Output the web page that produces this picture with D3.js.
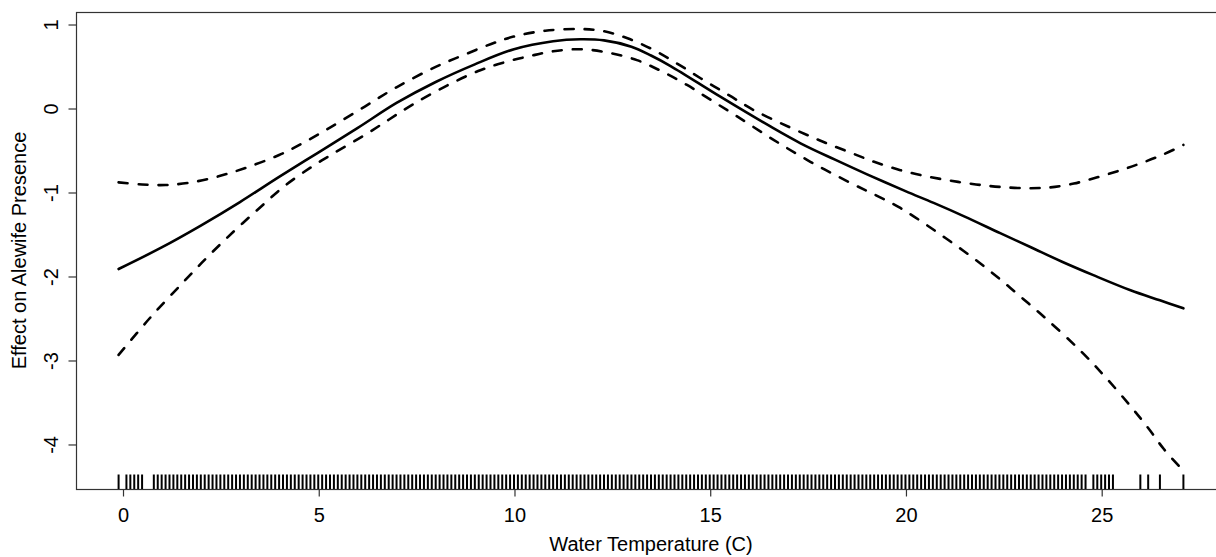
<!DOCTYPE html>
<html>
<head>
<meta charset="utf-8">
<script src="https://cdn.jsdelivr.net/npm/d3@7"></script>
<style>
  html, body { margin: 0; padding: 0; background: #fff; }
  svg { display: block; }
  text { font-family: "Liberation Sans", Arial, sans-serif; fill: #000; }
</style>
</head>
<body>
<div id="chart"></div>
<script>
// ---- data ----
const xTicks = [0, 5, 10, 15, 20, 25];
const yTicks = [-4, -3, -2, -1, 0, 1];
const xLabel = "Water Temperature (C)";
const yLabel = "Effect on Alewife Presence";

// smooth fit [temperature, effect]
const fitLine = [
  [-0.1, -1.917], [1.0, -1.66], [2.0, -1.40], [3.0, -1.12], [4.0, -0.82], [5.0, -0.53],
  [6.0, -0.24], [7.0, 0.06], [8.0, 0.31], [9.0, 0.52], [10.0, 0.70], [11.0, 0.795],
  [11.7, 0.818], [12.3, 0.805], [13.0, 0.73], [13.5, 0.625], [14.0, 0.50],
  [15.27, 0.135], [16.55, -0.22], [17.32, -0.42], [18.2, -0.615], [19.02, -0.79],
  [20.0, -0.99], [20.72, -1.13], [21.5, -1.29], [22.42, -1.49], [23.19, -1.655],
  [24.0, -1.83], [24.8, -1.99], [25.75, -2.17], [26.5, -2.29], [27.1, -2.385]
];
// upper confidence band
const upperLine = [
  [-0.1, -0.885], [0.5, -0.91], [1.1, -0.917], [1.7, -0.89], [2.4, -0.82], [3.1, -0.72],
  [4.0, -0.56], [4.6, -0.42], [5.31, -0.23], [6.2, 0.02], [7.01, 0.25], [8.0, 0.49],
  [8.71, 0.63], [9.4, 0.76], [9.99, 0.85], [10.8, 0.92], [11.69, 0.94], [12.29, 0.915],
  [12.9, 0.83], [13.57, 0.69], [14.2, 0.52], [14.84, 0.333], [15.5, 0.15], [16.12, -0.024],
  [17.0, -0.22], [17.83, -0.39], [18.59, -0.53], [19.2, -0.64], [19.87, -0.74],
  [20.5, -0.81], [21.15, -0.865], [21.8, -0.91], [22.42, -0.94], [23.1, -0.955],
  [23.7, -0.945], [24.3, -0.9], [24.9, -0.825], [25.5, -0.74], [26.0, -0.66],
  [26.6, -0.55], [27.1, -0.44]
];
// lower confidence band
const lowerLine = [
  [-0.1, -2.94], [0.7, -2.50], [1.56, -2.07], [2.2, -1.76], [2.84, -1.47], [3.5, -1.19],
  [4.11, -0.94], [4.8, -0.71], [5.39, -0.54], [6.16, -0.33], [6.8, -0.14], [7.44, 0.05],
  [8.3, 0.27], [9.14, 0.45], [9.8, 0.55], [10.42, 0.62], [11.0, 0.675], [11.7, 0.70],
  [12.4, 0.66], [13.14, 0.57], [13.8, 0.43], [14.42, 0.274], [15.05, 0.09], [15.70, -0.10],
  [16.6, -0.37], [17.57, -0.64], [18.59, -0.89], [19.25, -1.04], [19.87, -1.19],
  [20.5, -1.38], [21.15, -1.59], [21.8, -1.81], [22.42, -2.04], [23.0, -2.27],
  [23.62, -2.52], [24.47, -2.89], [25.1, -3.20], [25.75, -3.55], [26.2, -3.81],
  [26.6, -4.06], [27.1, -4.32]
];
// rug: observed temperatures
const rugTemps = [
  -0.1, 0.1, 0.2, 0.3, 0.4, 0.5,
  0.8, 0.9, 1.0, 1.1, 1.2, 1.3, 1.4, 1.5, 1.6, 1.7, 1.8, 1.9,
  2.0, 2.1, 2.2, 2.3, 2.4, 2.5, 2.6, 2.7, 2.8, 2.9,
  3.0, 3.1, 3.2, 3.3, 3.4, 3.5, 3.6, 3.7, 3.8, 3.9,
  4.0, 4.1, 4.2, 4.3, 4.4, 4.5, 4.6, 4.7, 4.8, 4.9,
  5.0, 5.1, 5.2, 5.3, 5.4, 5.5, 5.6, 5.7, 5.8, 5.9,
  6.0, 6.1, 6.2, 6.3, 6.4, 6.5, 6.6, 6.7, 6.8, 6.9,
  7.0, 7.1, 7.2, 7.3, 7.4, 7.5, 7.6, 7.7, 7.8, 7.9,
  8.0, 8.1, 8.2, 8.3, 8.4, 8.5, 8.6, 8.7, 8.8, 8.9,
  9.0, 9.1, 9.2, 9.3, 9.4, 9.5, 9.6, 9.7, 9.8, 9.9,
  10.0, 10.1, 10.2, 10.3, 10.4, 10.5, 10.6, 10.7, 10.8, 10.9,
  11.0, 11.1, 11.2, 11.3, 11.4, 11.5, 11.6, 11.7, 11.8, 11.9,
  12.0, 12.1, 12.2, 12.3, 12.4, 12.5, 12.6, 12.7, 12.8, 12.9,
  13.0, 13.1, 13.2, 13.3, 13.4, 13.5, 13.6, 13.7, 13.8, 13.9,
  14.0, 14.1, 14.2, 14.3, 14.4, 14.5, 14.6, 14.7, 14.8, 14.9,
  15.0, 15.1, 15.2, 15.3, 15.4, 15.5, 15.6, 15.7, 15.8, 15.9,
  16.0, 16.1, 16.2, 16.3, 16.4, 16.5, 16.6, 16.7, 16.8, 16.9,
  17.0, 17.1, 17.2, 17.3, 17.4, 17.5, 17.6, 17.7, 17.8, 17.9,
  18.0, 18.1, 18.2, 18.3, 18.4, 18.5, 18.6, 18.7, 18.8, 18.9,
  19.0, 19.1, 19.2, 19.3, 19.4, 19.5, 19.6, 19.7, 19.8, 19.9,
  20.0, 20.1, 20.2, 20.3, 20.4, 20.5, 20.6, 20.7, 20.8, 20.9,
  21.0, 21.1, 21.2, 21.3, 21.4, 21.5, 21.6, 21.7, 21.8, 21.9,
  22.0, 22.1, 22.2, 22.3, 22.4, 22.5, 22.6, 22.7, 22.8, 22.9,
  23.0, 23.1, 23.2, 23.3, 23.4, 23.5, 23.6, 23.7, 23.8, 23.9,
  24.0, 24.1, 24.2, 24.3, 24.4, 24.5, 24.6,
  24.8, 24.9, 25.0, 25.1, 25.2, 25.3,
  26.0, 26.2, 26.5, 27.1
];

// ---- layout ----
const W = 1216, H = 557;
const plot = { left: 76, right: 1226, top: 12, bottom: 489 };

const x = d3.scaleLinear().domain([-1.188, 28.188]).range([plot.left, plot.right]);
const y = d3.scaleLinear().domain([-4.536, 1.143]).range([plot.bottom, plot.top]);

const svg = d3.select("#chart").append("svg")
  .attr("width", W).attr("height", H);

// box
svg.append("rect")
  .attr("x", plot.left + 0.5).attr("y", plot.top + 0.5)
  .attr("width", plot.right - plot.left).attr("height", plot.bottom - plot.top)
  .attr("fill", "none").attr("stroke", "#333").attr("stroke-width", 1.2);

const fmt = d => String(d);

// axes
const xAxis = d3.axisBottom(x).tickValues(xTicks).tickSize(7).tickPadding(6).tickFormat(fmt);
const gx = svg.append("g").attr("transform", `translate(0.5,${plot.bottom + 0.5})`).call(xAxis);
gx.select(".domain").remove();
gx.selectAll(".tick line").attr("stroke", "#333").attr("stroke-width", 1.2);
gx.selectAll(".tick text").attr("font-size", 20).attr("dy", "0.95em").attr("fill", "#000");

const yAxis = d3.axisLeft(y).tickValues(yTicks).tickSize(8).tickFormat(fmt);
const gy = svg.append("g").attr("transform", `translate(${plot.left + 0.5},0.5)`).call(yAxis);
gy.select(".domain").remove();
gy.selectAll(".tick line").attr("stroke", "#333").attr("stroke-width", 1.2);
gy.selectAll(".tick text")
  .attr("font-size", 20)
  .attr("text-anchor", "middle")
  .attr("x", null).attr("dy", null)
  .attr("transform", "translate(-19,0) rotate(-90)")
  .attr("fill", "#000");

// axis titles
svg.append("text")
  .attr("x", (plot.left + plot.right) / 2).attr("y", 551)
  .attr("text-anchor", "middle").attr("font-size", 20)
  .text(xLabel);
svg.append("text")
  .attr("transform", `translate(26,${(plot.top + plot.bottom) / 2}) rotate(-90)`)
  .attr("text-anchor", "middle").attr("font-size", 20)
  .text(yLabel);

// rug
svg.append("g").selectAll("line").data(rugTemps).join("line")
  .attr("x1", d => x(d)).attr("x2", d => x(d))
  .attr("y1", plot.bottom).attr("y2", plot.bottom - 14.5)
  .attr("stroke", "#000").attr("stroke-width", 2);

// curves
const line = d3.line().x(d => x(d[0])).y(d => y(d[1])).curve(d3.curveCatmullRom.alpha(0.5));

svg.append("path").datum(upperLine).attr("d", line)
  .attr("fill", "none").attr("stroke", "#000").attr("stroke-width", 2.6)
  .attr("stroke-dasharray", "9,11").attr("stroke-linecap", "round");
svg.append("path").datum(lowerLine).attr("d", line)
  .attr("fill", "none").attr("stroke", "#000").attr("stroke-width", 2.6)
  .attr("stroke-dasharray", "9,11").attr("stroke-linecap", "round");
svg.append("path").datum(fitLine).attr("d", line)
  .attr("fill", "none").attr("stroke", "#000").attr("stroke-width", 2.6)
  .attr("stroke-linecap", "round").attr("stroke-linejoin", "round");
</script>
</body>
</html>
